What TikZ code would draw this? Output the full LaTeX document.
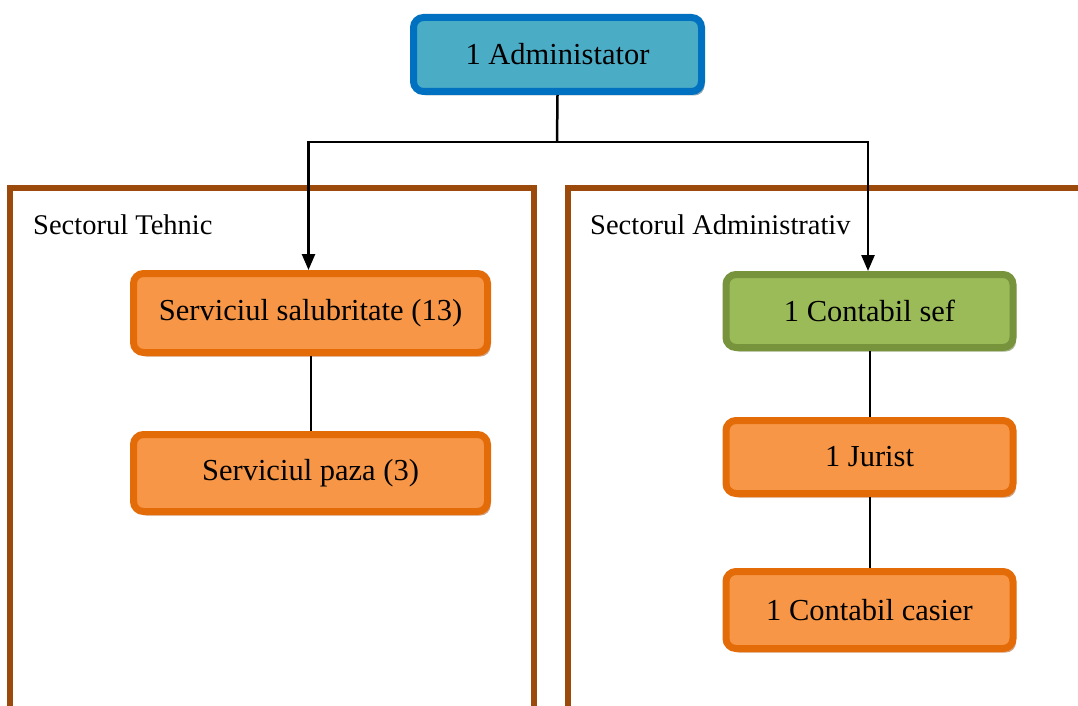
\documentclass[tikz,border=0pt]{standalone}
\usepackage{fontspec}
\setmainfont{Liberation Serif}
\usetikzlibrary{shadows,arrows.meta}
\definecolor{bluefill}{HTML}{4BACC6}
\definecolor{blueline}{HTML}{0070C0}
\definecolor{blueshadow}{HTML}{8FA9B5}
\definecolor{orfill}{HTML}{F79646}
\definecolor{orline}{HTML}{E36C09}
\definecolor{orshadow}{HTML}{D2A381}
\definecolor{grfill}{HTML}{9BBB59}
\definecolor{grline}{HTML}{77933C}
\definecolor{grshadow}{HTML}{AAB894}
\definecolor{frame}{HTML}{9C4A0C}
\tikzset{
  box/.style={rectangle, rounded corners=10pt, line width=7pt, inner sep=0pt,
    font=\fontsize{30.5}{34}\selectfont, align=center},
  bluebox/.style={box, draw=blueline, fill=bluefill,
    drop shadow={shadow xshift=3pt, shadow yshift=-4pt, fill=blueshadow, opacity=1}},
  orbox/.style={box, draw=orline, fill=orfill,
    drop shadow={shadow xshift=3pt, shadow yshift=-4pt, fill=orshadow, opacity=1}},
  grbox/.style={box, draw=grline, fill=grfill,
    drop shadow={shadow xshift=3pt, shadow yshift=-4pt, fill=grshadow, opacity=1}},
  sector/.style={draw=frame, line width=6pt},
  sectorlabel/.style={anchor=west, inner sep=0pt, font=\fontsize{28.5}{32}\selectfont},
  arrowline/.style={draw=black, line width=2.5pt, -{Triangle[length=16pt,width=13pt]}},
  link/.style={draw=black, line width=2pt}
}
\begin{document}
\begin{tikzpicture}[x=1pt,y=-1pt]
\useasboundingbox (0,0) rectangle (1078,706);
% sector frames
\draw[sector] (10,720) -- (10,188) -- (534,188) -- (534,720);
\draw[sector] (568,720) -- (568,188) -- (1090,188);
\node[sectorlabel] (lt) at (33,225) {Sectorul Tehnic};
\node[sectorlabel] (la) at (590,225) {Sectorul Administrativ};
% boxes
\node[bluebox, minimum width=288pt, minimum height=74pt] (adm) at (557.5,54.5) {1 Administator};
\node[orbox, minimum width=354pt, minimum height=79pt] (sal) at (310.5,313) {Serviciul salubritate (13)};
\node[orbox, minimum width=354pt, minimum height=77pt] (paz) at (310.5,473) {Serviciul paza (3)};
\node[grbox, minimum width=287pt, minimum height=73pt] (cs) at (869.5,311) {1 Contabil sef};
\node[orbox, minimum width=287pt, minimum height=73pt] (jur) at (869.5,457) {1 Jurist};
\node[orbox, minimum width=287pt, minimum height=77pt] (cas) at (869.5,610) {1 Contabil casier};
% connectors
\coordinate (j) at (557,142);
\draw[link, line width=2.5pt] (adm.south) -- (j);
\draw[arrowline] (j) -| ([xshift=-2pt]sal.north);
\draw[arrowline] (j) -| ([xshift=-1.5pt]cs.north);
\draw[link] (sal.south) -- (paz.north);
\draw[link] (cs.south) -- (jur.north);
\draw[link] (jur.south) -- (cas.north);
\end{tikzpicture}
\end{document}
